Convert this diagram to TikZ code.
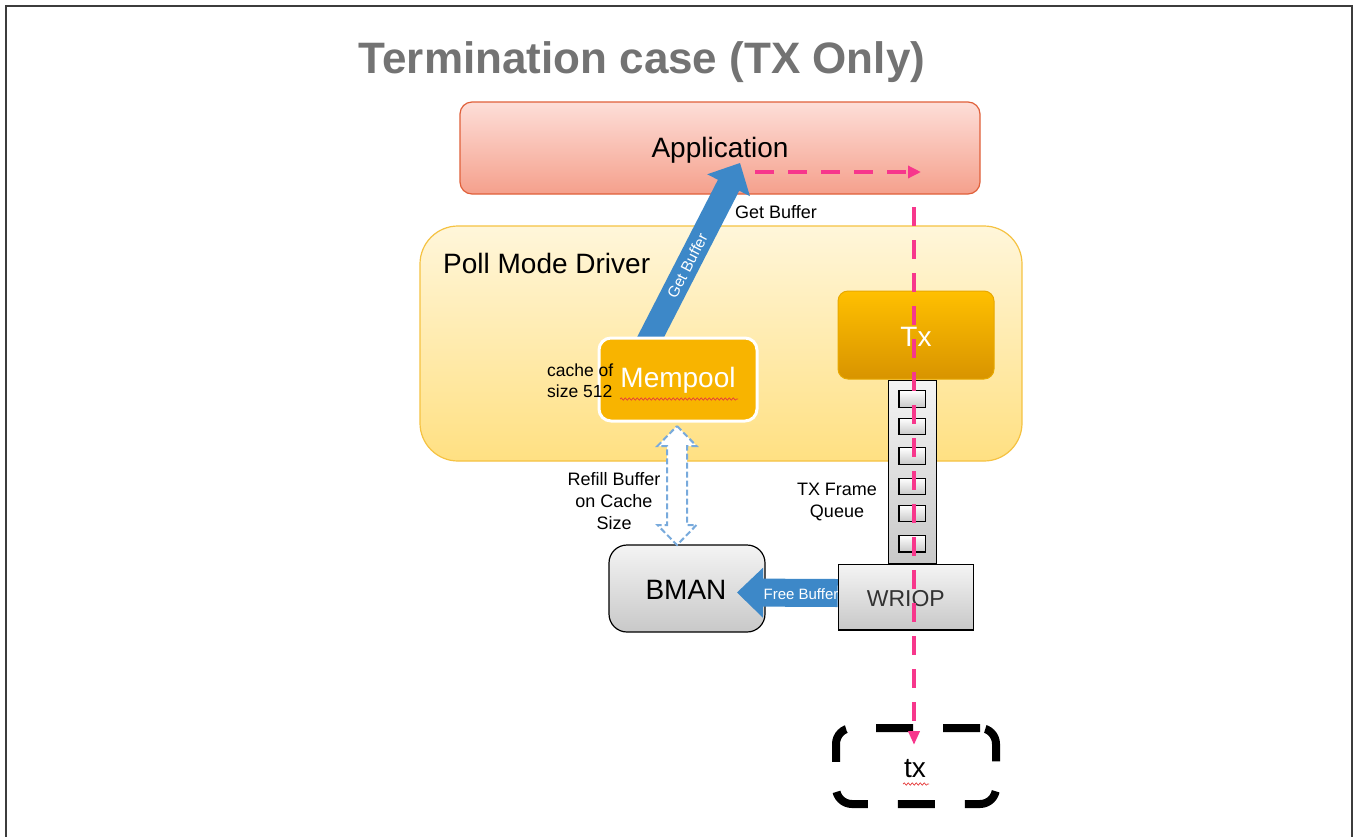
\documentclass[tikz,border=0pt]{standalone}
\usepackage{fontspec}
\setmainfont{Liberation Sans}
\usetikzlibrary{calc,arrows.meta,decorations.pathmorphing}
\definecolor{framecol}{RGB}{60,60,60}
\definecolor{titlecol}{RGB}{115,115,115}
\definecolor{apptop}{RGB}{253,222,216}
\definecolor{appbot}{RGB}{245,160,140}
\definecolor{appline}{RGB}{224,96,58}
\definecolor{pmdtop}{RGB}{255,246,218}
\definecolor{pmdbot}{RGB}{255,224,130}
\definecolor{pmdline}{RGB}{245,194,66}
\definecolor{memfill}{RGB}{248,180,0}
\definecolor{txtop}{RGB}{255,192,0}
\definecolor{txbot}{RGB}{216,148,0}
\definecolor{txline}{RGB}{232,168,0}
\definecolor{bluearrow}{RGB}{61,136,200}
\definecolor{refillcol}{RGB}{120,170,220}
\definecolor{graytop}{RGB}{244,244,244}
\definecolor{graybot}{RGB}{200,200,200}
\definecolor{pinkline}{RGB}{247,55,140}
\definecolor{spellred}{RGB}{230,60,60}
\definecolor{darktext}{RGB}{50,50,50}
\begin{document}
\begin{tikzpicture}[x=1pt,y=-1pt,
  fs/.style={font=\fontsize{#1}{#1}\selectfont},
  bigtext/.style={font=\fontsize{28}{34}\selectfont},
  smalltext/.style={font=\fontsize{18}{22}\selectfont},
  graybox/.style={draw=black, line width=1.2pt, top color=graytop, bottom color=graybot},
  slotbox/.style={draw=black, line width=1.2pt, top color=white, bottom color=graybot, minimum width=26.7pt, minimum height=16.5pt, inner sep=0pt},
  bluearr/.style={fill=bluearrow, draw=none},
  pinkdash/.style={draw=pinkline, line width=3.5pt, dash pattern=on 19pt off 14pt},
  spell/.style={draw=spellred, line width=0.7pt, decorate, decoration={snake, amplitude=1.2pt, segment length=4pt}}
]
\useasboundingbox (0,0) rectangle (1354,836);
\fill[white] (0,0) rectangle (1354,836);
\draw[framecol, line width=2.5pt] (6,840) -- (6,6) -- (1352,6) -- (1352,840);

% title
\node[font=\fontsize{44}{50}\selectfont\bfseries, text=titlecol] (title) at (642,62) {Termination case (TX Only)};

% application
\node[draw=appline, line width=1.2pt, top color=apptop, bottom color=appbot, rounded corners=12pt,
      minimum width=520pt, minimum height=92pt, inner sep=0pt] (app) at (720,148) {};
\node[bigtext] (applabel) at (720,150) {Application};

% poll mode driver
\node[draw=pmdline, line width=1.2pt, top color=pmdtop, bottom color=pmdbot, rounded corners=38pt,
      minimum width=602pt, minimum height=235pt, inner sep=0pt] (pmd) at (721,343.5) {};
\node[bigtext, anchor=west, inner sep=0pt] (pmdlabel) at (443,263) {Poll Mode Driver};

% Get Buffer block arrow (behind mempool)
\coordinate (gtail) at (646,346);
\coordinate (gtip) at (740,163);
\coordinate (ghb) at ($(gtip)!25pt!(gtail)$);
\fill[bluearr] ($(gtail)!12pt!90:(gtip)$) -- ($(ghb)!12pt!90:(gtip)$) -- ($(ghb)!24pt!90:(gtip)$)
   -- (gtip) -- ($(ghb)!24pt!-90:(gtip)$) -- ($(ghb)!12pt!-90:(gtip)$) -- ($(gtail)!12pt!-90:(gtip)$) -- cycle;
\path (gtail) -- (ghb) node[midway, sloped, text=white, fs=15.5, inner sep=0pt] (getbufin) {Get Buffer};
\node[smalltext, anchor=west, inner sep=0pt] (getbufout) at (735,212) {Get Buffer};

% mempool
\node[draw=white, line width=3pt, fill=memfill, rounded corners=12pt,
      minimum width=158pt, minimum height=83pt, inner sep=0pt] (mem) at (678,379.5) {};
\node[bigtext, text=white] (memlabel) at (678,380) {Mempool};
\draw[spell] (620,399) -- (738,399);
\node[align=left, anchor=west, inner sep=0pt, font=\fontsize{17.5}{21}\selectfont] (cache) at (547,381) {cache of\\size 512};

% Tx
\node[draw=txline, line width=1pt, top color=txtop, bottom color=txbot, rounded corners=10pt,
      minimum width=156pt, minimum height=88pt, inner sep=0pt] (tx) at (916,335) {};
\node[bigtext, text=white] (txlabel) at (916,337) {Tx};

% queue
\node[graybox, minimum width=48.4pt, minimum height=183pt, inner sep=0pt] (queue) at (912.5,471.7) {};
\node[slotbox] (q1) at (912.3,399) {};
\node[slotbox] (q2) at (912.3,426.5) {};
\node[slotbox] (q3) at (912.3,456) {};
\node[slotbox] (q4) at (912.3,486.5) {};
\node[slotbox] (q5) at (912.3,513.5) {};
\node[slotbox] (q6) at (912.3,543.7) {};
\node[smalltext, align=center] (tfq) at (837,502) {TX Frame\\Queue};

% WRIOP
\node[graybox, minimum width=135pt, minimum height=65.7pt, inner sep=0pt] (wriop) at (905.8,597.2) {};
\node[font=\fontsize{23}{28}\selectfont, text=darktext] (wrioplabel) at (905.8,599) {WRIOP};

% BMAN
\node[graybox, rounded corners=18pt, minimum width=156pt, minimum height=87pt, inner sep=0pt] (bman) at (687,588.5) {};
\node[bigtext] (bmanlabel) at (686,590) {BMAN};

% Free Buffer arrow
\coordinate (ftail) at (wriop.west|-0,593);
\coordinate (ftip) at (737,592.5);
\coordinate (fhb) at ($(ftip)!26pt!(ftail)$);
\fill[bluearr] ($(ftail)!14pt!90:(ftip)$) -- ($(fhb)!14pt!90:(ftip)$) -- ($(fhb)!25pt!90:(ftip)$)
   -- (ftip) -- ($(fhb)!25pt!-90:(ftip)$) -- ($(fhb)!14pt!-90:(ftip)$) -- ($(ftail)!14pt!-90:(ftip)$) -- cycle;
\node[text=white, fs=15, inner sep=0pt] (freebuf) at (801,594) {Free Buffer};

% Refill double arrow
\coordinate (rtop) at (677,426);
\coordinate (rbot) at (677,545);
\filldraw[fill=white, draw=refillcol, line width=2pt, dash pattern=on 6pt off 3pt, line join=miter]
  (rtop) -- ($(rtop)+(19.5,20)$) -- ($(rtop)+(10,20)$) -- ($(rbot)+(10,-20)$) -- ($(rbot)+(19.5,-20)$)
  -- (rbot) -- ($(rbot)+(-19.5,-20)$) -- ($(rbot)+(-10,-20)$) -- ($(rtop)+(-10,20)$) -- ($(rtop)+(-19.5,20)$) -- cycle;
\node[smalltext, align=center] (refill) at (614,501) {Refill Buffer\\on Cache\\Size};

% tx (destination)
\node[draw=black, line width=8pt, dash pattern=on 37pt off 30pt, rounded corners=16pt,
      minimum width=160pt, minimum height=76pt, inner sep=0pt] (txout) at (916,766) {};
\node[bigtext] (txoutlabel) at (915,769) {tx};
\draw[spell] (903,784) -- (929,784);

% pink dashed flow
\coordinate (pa) at (755,172);
\coordinate (pb) at (921,172);
\coordinate (pc) at (914,207);
\coordinate (pd) at (914,745);
\draw[pinkdash, -{Triangle[length=13pt,width=12pt]}] (pa) -- (pb);
\draw[pinkdash, -{Triangle[length=14pt,width=11pt]}] (pc) -- (pd);
\end{tikzpicture}
\end{document}
